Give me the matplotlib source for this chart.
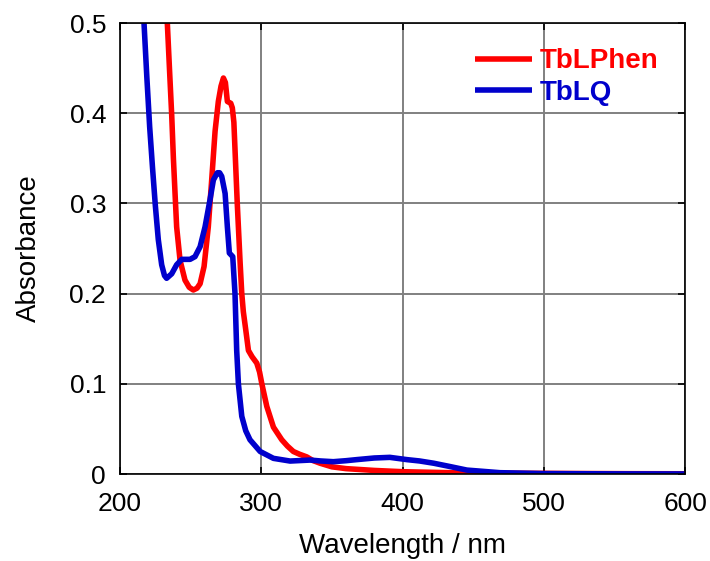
import matplotlib
matplotlib.use("Agg")
import matplotlib.pyplot as plt

wl_phen = [233.5, 235, 236.6, 237.8, 239, 240.1, 242.5, 246, 249, 251.9, 254.5, 256.7, 259.5, 262.5,
           264.9, 267.3, 269.6, 271.5, 273.2, 274.6, 276, 278.4, 279.5, 280.6, 281.4, 282.2, 283,
           283.8, 285, 286.2, 287.3, 289, 290.9, 293.5, 296.8, 298.8, 300.4, 303.9, 308.6, 314.5,
           318.5, 322.7, 327, 332.2, 336.5, 341.6, 350, 360, 380, 400, 430, 470, 520, 560, 600]
abs_phen = [0.5, 0.45, 0.398, 0.35, 0.31, 0.274, 0.237, 0.215, 0.207, 0.204, 0.206, 0.211, 0.23, 0.274,
            0.326, 0.38, 0.413, 0.43, 0.439, 0.434, 0.413, 0.411, 0.406, 0.39, 0.36, 0.33, 0.3,
            0.274, 0.235, 0.2, 0.18, 0.16, 0.137, 0.13, 0.123, 0.113, 0.1, 0.075, 0.052, 0.038,
            0.031, 0.025, 0.022, 0.019, 0.015, 0.012, 0.008, 0.006, 0.004, 0.0026, 0.0016, 0.001,
            0.0006, 0.0004, 0.0003]

wl_lq = [217, 219, 221, 223, 225, 227.1, 229.5, 231.5, 233, 236.6, 240.1, 243.7, 246.5, 249.6, 253.1,
         256.7, 260.2, 263.7, 266.1, 268.9, 270.5, 272, 274.4, 276, 277.4, 279.8, 281.4, 282.6, 283.8,
         286.2, 289, 292, 299.2, 308.6, 320.4, 334.6, 342, 351, 360, 367.6, 380, 391, 403, 412, 422,
         433, 445.5, 469, 500, 550, 600]
abs_lq = [0.5, 0.44, 0.385, 0.34, 0.298, 0.26, 0.232, 0.22, 0.217, 0.222, 0.232, 0.238, 0.238, 0.238,
          0.241, 0.252, 0.274, 0.304, 0.326, 0.334, 0.334, 0.33, 0.311, 0.274, 0.245, 0.241, 0.2,
          0.137, 0.1, 0.064, 0.048, 0.038, 0.025, 0.0174, 0.0144, 0.0155, 0.0145, 0.0137, 0.0148,
          0.016, 0.0178, 0.0185, 0.016, 0.0145, 0.012, 0.0085, 0.0044, 0.0015, 0.0005, 0.0002, 0.0001]

labels = ["TbLPhen", "TbLQ"]
colors = ["#ff0000", "#0000cc"]

plt.rcParams['font.family'] = ['Liberation Sans', 'DejaVu Sans']

fig = plt.figure(figsize=(7.1, 5.61), dpi=100)
ax = fig.add_axes((0.169, 0.155, 0.796, 0.804))

ax.plot(wl_phen, abs_phen, color=colors[0], lw=4, label=labels[0],
        solid_joinstyle="round", solid_capstyle="butt")
ax.plot(wl_lq, abs_lq, color=colors[1], lw=4, label=labels[1],
        solid_joinstyle="round", solid_capstyle="butt")

ax.set_xlim(200, 600)
ax.set_ylim(0, 0.5)
ax.set_xticks([200, 300, 400, 500, 600])
ax.set_yticks([0, 0.1, 0.2, 0.3, 0.4, 0.5])
ax.set_yticklabels(["0", "0.1", "0.2", "0.3", "0.4", "0.5"])
ax.grid(True, color="#808080", lw=1.4)
ax.set_axisbelow(True)
ax.tick_params(direction="in", top=True, right=True, labelsize=19, length=5, width=1.2)
ax.tick_params(axis="x", pad=13)
ax.tick_params(axis="y", pad=10)
for s in ax.spines.values():
    s.set_linewidth(1.2)

ax.set_xlabel("Wavelength / nm", fontsize=20, labelpad=12)
ax.set_ylabel("Absorbance", fontsize=20, labelpad=20)

leg = ax.legend(loc="upper right", bbox_to_anchor=(0.988, 0.987), frameon=False,
                handlelength=2.05, handletextpad=0.3, labelspacing=0.2, borderaxespad=0.3,
                prop={"weight": "bold", "size": 20})
for txt, c in zip(leg.get_texts(), colors):
    txt.set_color(c)

fig.savefig("out.png", dpi=100, facecolor="white")
